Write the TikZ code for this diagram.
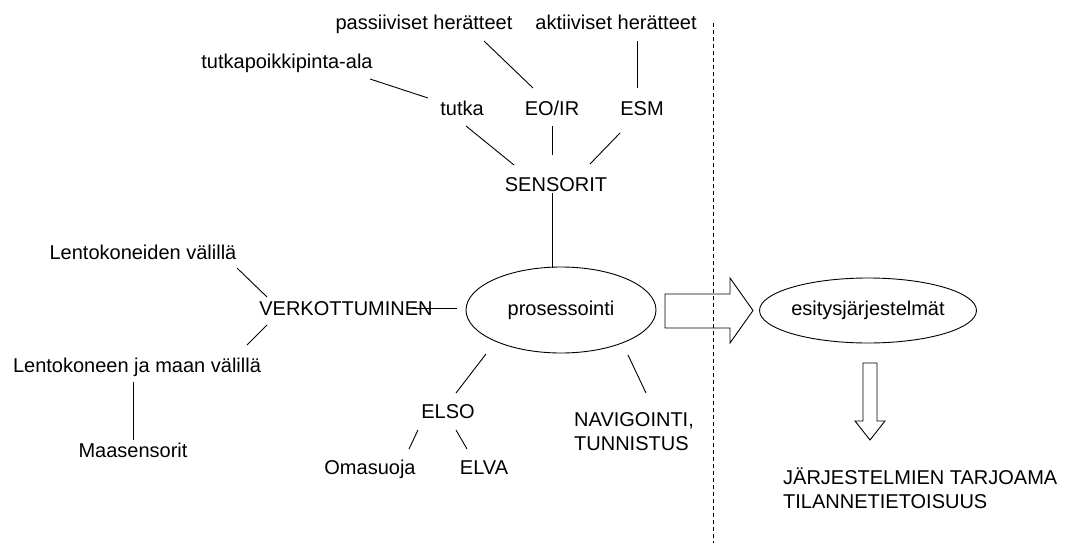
\documentclass[tikz,border=0pt]{standalone}
\usepackage{fontspec}
\setmainfont{Liberation Sans}
\usetikzlibrary{shapes.geometric}
\begin{document}
\begin{tikzpicture}[x=1pt,y=-1pt,
  lbl/.style={inner sep=0pt, font=\fontsize{20}{24}\selectfont, text height=14pt, text depth=0pt},
  mlbl/.style={inner sep=0pt, font=\fontsize{20}{24}\selectfont, align=left, anchor=west},
  oval/.style={draw, ellipse, inner sep=0pt, line width=0.9pt, font=\fontsize{20}{24}\selectfont},
  conn/.style={line width=0.9pt},
  hollowarrow/.style={draw, line width=0.9pt},
  divider/.style={line width=0.9pt, dash pattern=on 4pt off 3pt}]
\useasboundingbox (0,0) rectangle (1071,543);

% divider
\coordinate (dtop) at (713,23);
\coordinate (dbot) at (713,543);
\draw[divider] (dtop) -- (dbot);

% text nodes
\node[lbl] (pass) at (424,23) {passiiviset herätteet};
\node[lbl] (akt) at (616,23) {aktiiviset herätteet};
\node[lbl] (rcs) at (287,62) {tutkapoikkipinta-ala};
\node[lbl] (tutka) at (462,108) {tutka};
\node[lbl] (eoir) at (552,108) {EO/IR};
\node[lbl] (esm) at (642,108) {ESM};
\node[lbl] (sens) at (556,184) {SENSORIT};
\node[lbl] (lkv) at (143,252) {Lentokoneiden välillä};
\node[lbl] (verk) at (346,308) {VERKOTTUMINEN};
\node[lbl] (lkm) at (137,365) {Lentokoneen ja maan välillä};
\node[lbl] (maa) at (133,450) {Maasensorit};
\node[lbl] (elso) at (448,411) {ELSO};
\node[lbl] (oma) at (370,467) {Omasuoja};
\node[lbl] (elva) at (484,467) {ELVA};
\node[mlbl] (nav) at (574,432) {NAVIGOINTI,\\TUNNISTUS};
\node[mlbl] (jtt) at (783,488) {JÄRJESTELMIEN TARJOAMA\\TILANNETIETOISUUS};

% ellipses
\node[oval, minimum width=190pt, minimum height=86pt] (proc) at (561,310) {prosessointi};
\node[oval, minimum width=194pt, minimum height=65pt] (esit) at (868,310.5) {esitysjärjestelmät};

% connector end points
\coordinate (c1a) at (370,79);  \coordinate (c1b) at (428,98);
\coordinate (c2a) at (484,41);  \coordinate (c2b) at (533,88);
\coordinate (c3a) at (637,41);  \coordinate (c3b) at (637,88);
\coordinate (c4a) at (466,126); \coordinate (c4b) at (514,165);
\coordinate (c5a) at (552,126); \coordinate (c5b) at (552,155);
\coordinate (c6a) at (620,133); \coordinate (c6b) at (590,164);
\coordinate (c7a) at (552,193); \coordinate (c7b) at (552,267.5);
\coordinate (c8a) at (237,268); \coordinate (c8b) at (267,297);
\coordinate (c9a) at (267,325); \coordinate (c9b) at (247,345);
\coordinate (c10a) at (133,382); \coordinate (c10b) at (133,440);
\coordinate (c11a) at (412,308); \coordinate (c11b) at (457,308);
\coordinate (c12a) at (486,354); \coordinate (c12b) at (456,393);
\coordinate (c13a) at (418,430); \coordinate (c13b) at (409,449);
\coordinate (c14a) at (456,430); \coordinate (c14b) at (467,449);
\coordinate (c15a) at (628,355); \coordinate (c15b) at (646,393);

\foreach \i in {1,...,15} \draw[conn] (c\i a) -- (c\i b);

% hollow block arrows
\coordinate (ra1) at (665,294); \coordinate (ra2) at (730,294); \coordinate (ra3) at (730,278);
\coordinate (ratip) at (753,310.5);
\coordinate (ra4) at (730,343); \coordinate (ra5) at (730,328); \coordinate (ra6) at (665,328);
\draw[hollowarrow] (ra1) -- (ra2) -- (ra3) -- (ratip) -- (ra4) -- (ra5) -- (ra6) -- cycle;

\coordinate (da1) at (863,363); \coordinate (da2) at (877,363); \coordinate (da3) at (877,421);
\coordinate (da4) at (885,421); \coordinate (datip) at (870,440); \coordinate (da5) at (855,421);
\coordinate (da6) at (863,421);
\draw[hollowarrow] (da1) -- (da2) -- (da3) -- (da4) -- (datip) -- (da5) -- (da6) -- cycle;
\end{tikzpicture}
\end{document}
